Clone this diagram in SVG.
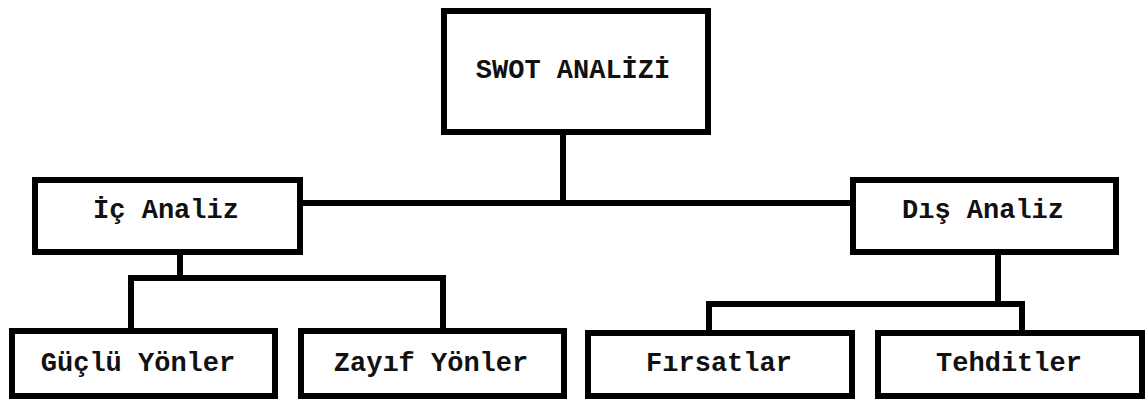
<svg xmlns="http://www.w3.org/2000/svg" width="1148" height="399" viewBox="0 0 1148 399">
<style>
.box{fill:#fff;stroke:#000;stroke-width:6}
.lbl{font-family:"Liberation Mono","Courier New",monospace;font-weight:bold;font-size:27px;fill:#111;text-anchor:middle}
.conn{fill:none;stroke:#000;stroke-width:6;stroke-linecap:square}
</style>
<rect width="1148" height="399" fill="#fff"/>
<g id="connectors">
<path class="conn" d="M563 132 V203 M300 203 H853"/>
<path class="conn" d="M180 252 V278 M131 278 H443 M131 278 V331 M443 278 V331"/>
<path class="conn" d="M998 252 V304 M709 304 H1022 M709 304 V333 M1022 304 V333"/>
</g>
<g id="swot"><rect class="box" x="444" y="11" width="264" height="121"/><text class="lbl" x="573" y="78" font-size="25">SWOT ANALİZİ</text></g>
<g id="ic"><rect class="box" x="35" y="180" width="265" height="72"/><text class="lbl" x="166" y="218">İç Analiz</text></g>
<g id="dis"><rect class="box" x="853" y="180" width="263" height="72"/><text class="lbl" x="983" y="218">Dış Analiz</text></g>
<g id="guclu"><rect class="box" x="12" y="331" width="263" height="65"/><text class="lbl" x="138" y="371">Güçlü Yönler</text></g>
<g id="zayif"><rect class="box" x="301" y="331" width="263" height="65"/><text class="lbl" x="431" y="371">Zayıf Yönler</text></g>
<g id="firsat"><rect class="box" x="588" y="333" width="264" height="63"/><text class="lbl" x="719" y="371">Fırsatlar</text></g>
<g id="tehdit"><rect class="box" x="878" y="333" width="264" height="63"/><text class="lbl" x="1009" y="371">Tehditler</text></g>
</svg>
